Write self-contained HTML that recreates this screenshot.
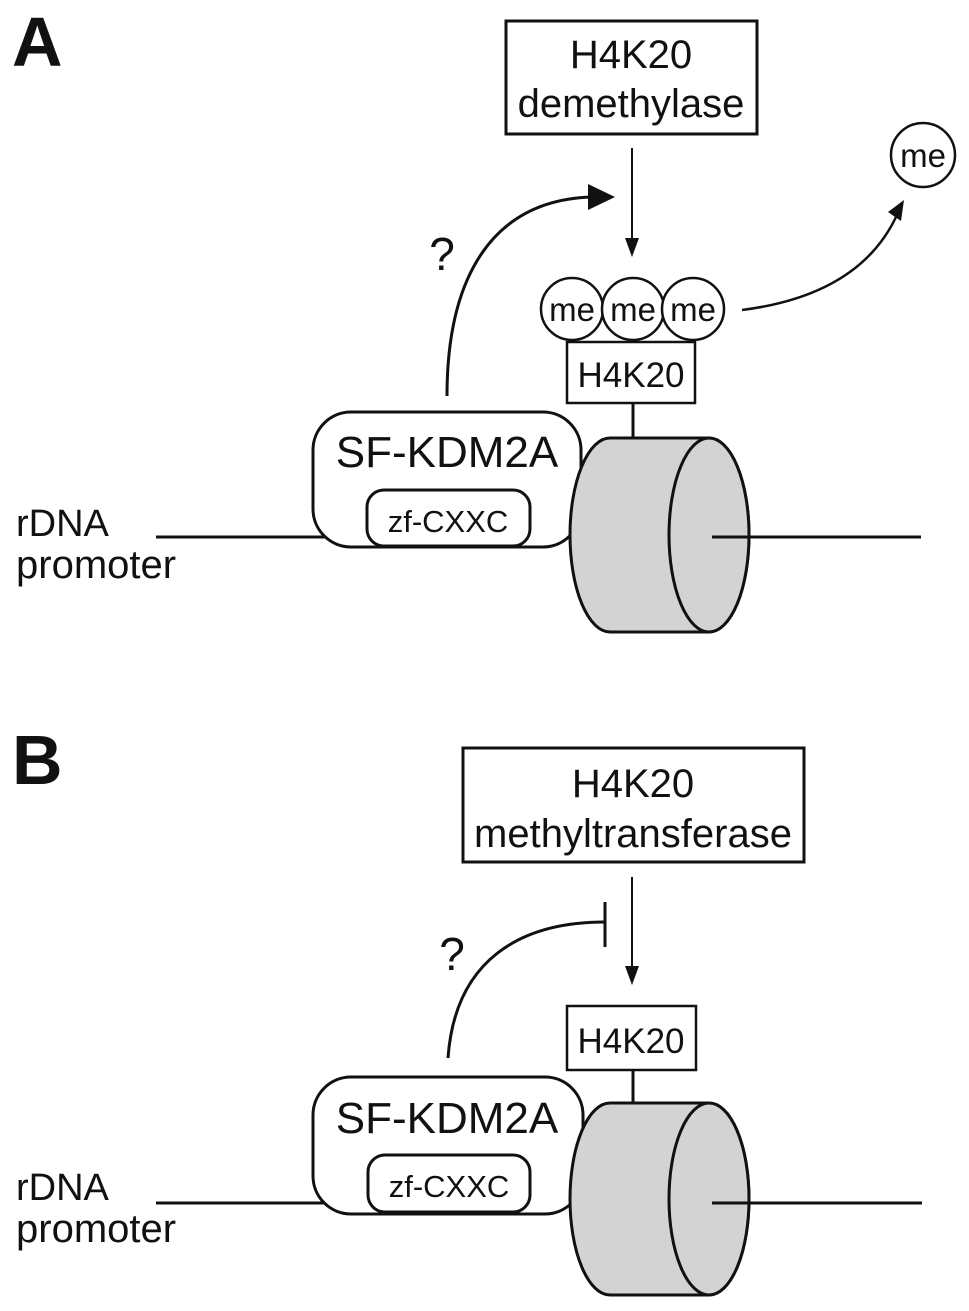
<!DOCTYPE html>
<html><head><meta charset="utf-8"><style>
html,body{margin:0;padding:0;background:#fff;}
svg{display:block;}
text{font-family:"Liberation Sans",Arial,sans-serif;fill:#111;}
</style></head><body>
<svg width="969" height="1311" viewBox="0 0 969 1311" xmlns="http://www.w3.org/2000/svg">
<g stroke="#111" fill="none" stroke-width="3">
<!-- ===== A ===== -->
<text x="12" y="66" font-size="70" font-weight="bold" stroke="none">A</text>
<rect x="506" y="21" width="251" height="113" fill="#fff"/>
<text x="631" y="68" font-size="40" text-anchor="middle" stroke="none">H4K20</text>
<text x="631" y="117" font-size="40" text-anchor="middle" stroke="none">demethylase</text>
<line x1="632" y1="148" x2="632" y2="240" stroke-width="2"/>
<path d="M625,238 L639,238 L632,257 Z" fill="#111" stroke="none"/>
<path d="M447,396 C447,280 490,200 592,197"/>
<path d="M588,184 L615,197 L588,210 Z" fill="#111" stroke="none"/>
<text x="442" y="270" font-size="46" text-anchor="middle" stroke="none">?</text>
<circle cx="572" cy="309" r="31" fill="#fff" stroke-width="2.5"/>
<circle cx="633" cy="309" r="31" fill="#fff" stroke-width="2.5"/>
<circle cx="693" cy="309" r="31" fill="#fff" stroke-width="2.5"/>
<text x="572" y="321" font-size="33" text-anchor="middle" stroke="none">me</text>
<text x="633" y="321" font-size="33" text-anchor="middle" stroke="none">me</text>
<text x="693" y="321" font-size="33" text-anchor="middle" stroke="none">me</text>
<path d="M742,310 Q860,295 897,215" stroke-width="2.5"/>
<path d="M888,212 L904,200 L901,221 Z" fill="#111" stroke="none"/>
<circle cx="923" cy="155" r="32" fill="#fff" stroke-width="2.5"/>
<text x="923" y="167" font-size="33" text-anchor="middle" stroke="none">me</text>
<rect x="567" y="342" width="128" height="61" fill="#fff" stroke-width="2.5"/>
<text x="631" y="387" font-size="35" text-anchor="middle" stroke="none">H4K20</text>
<line x1="633" y1="403" x2="633" y2="438"/>
<line x1="156" y1="537" x2="330" y2="537"/>
<text x="16" y="536" font-size="38" stroke="none">rDNA</text>
<text x="16" y="578" font-size="40" stroke="none">promoter</text>
<rect x="313" y="412" width="268" height="135" rx="38" fill="#fff"/>
<text x="447" y="467" font-size="44" text-anchor="middle" stroke="none">SF-KDM2A</text>
<rect x="367" y="490" width="163" height="56" rx="17" fill="#fff"/>
<text x="448" y="532" font-size="31" text-anchor="middle" stroke="none">zf-CXXC</text>
<path d="M709,438 L610,438 A40,97 0 0 0 610,632 L709,632 A40,97 0 0 0 709,438 Z" fill="#d3d3d3"/>
<ellipse cx="709" cy="535" rx="40" ry="97" fill="#d3d3d3"/>
<line x1="712" y1="537" x2="921" y2="537"/>

<!-- ===== B ===== -->
<text x="12" y="784" font-size="70" font-weight="bold" stroke="none">B</text>
<rect x="463" y="748" width="341" height="114" fill="#fff"/>
<text x="633" y="797" font-size="40" text-anchor="middle" stroke="none">H4K20</text>
<text x="633" y="847" font-size="40" text-anchor="middle" stroke="none">methyltransferase</text>
<line x1="632" y1="877" x2="632" y2="968" stroke-width="2"/>
<path d="M625,966 L639,966 L632,985 Z" fill="#111" stroke="none"/>
<path d="M448,1058 C455,960 520,922 605,922"/>
<line x1="605" y1="902" x2="605" y2="947"/>
<text x="452" y="970" font-size="46" text-anchor="middle" stroke="none">?</text>
<rect x="567" y="1006" width="129" height="64" fill="#fff" stroke-width="2.5"/>
<text x="631" y="1053" font-size="35" text-anchor="middle" stroke="none">H4K20</text>
<line x1="633" y1="1070" x2="633" y2="1103"/>
<line x1="156" y1="1203" x2="330" y2="1203"/>
<text x="16" y="1200" font-size="38" stroke="none">rDNA</text>
<text x="16" y="1242" font-size="40" stroke="none">promoter</text>
<rect x="313" y="1077" width="270" height="137" rx="38" fill="#fff"/>
<text x="447" y="1133" font-size="44" text-anchor="middle" stroke="none">SF-KDM2A</text>
<rect x="368" y="1155" width="162" height="57" rx="17" fill="#fff"/>
<text x="449" y="1197" font-size="31" text-anchor="middle" stroke="none">zf-CXXC</text>
<path d="M709,1103 L610,1103 A40,96 0 0 0 610,1295 L709,1295 A40,96 0 0 0 709,1103 Z" fill="#d3d3d3"/>
<ellipse cx="709" cy="1199" rx="40" ry="96" fill="#d3d3d3"/>
<line x1="712" y1="1203" x2="922" y2="1203"/>
</g>
</svg>
</body></html>
